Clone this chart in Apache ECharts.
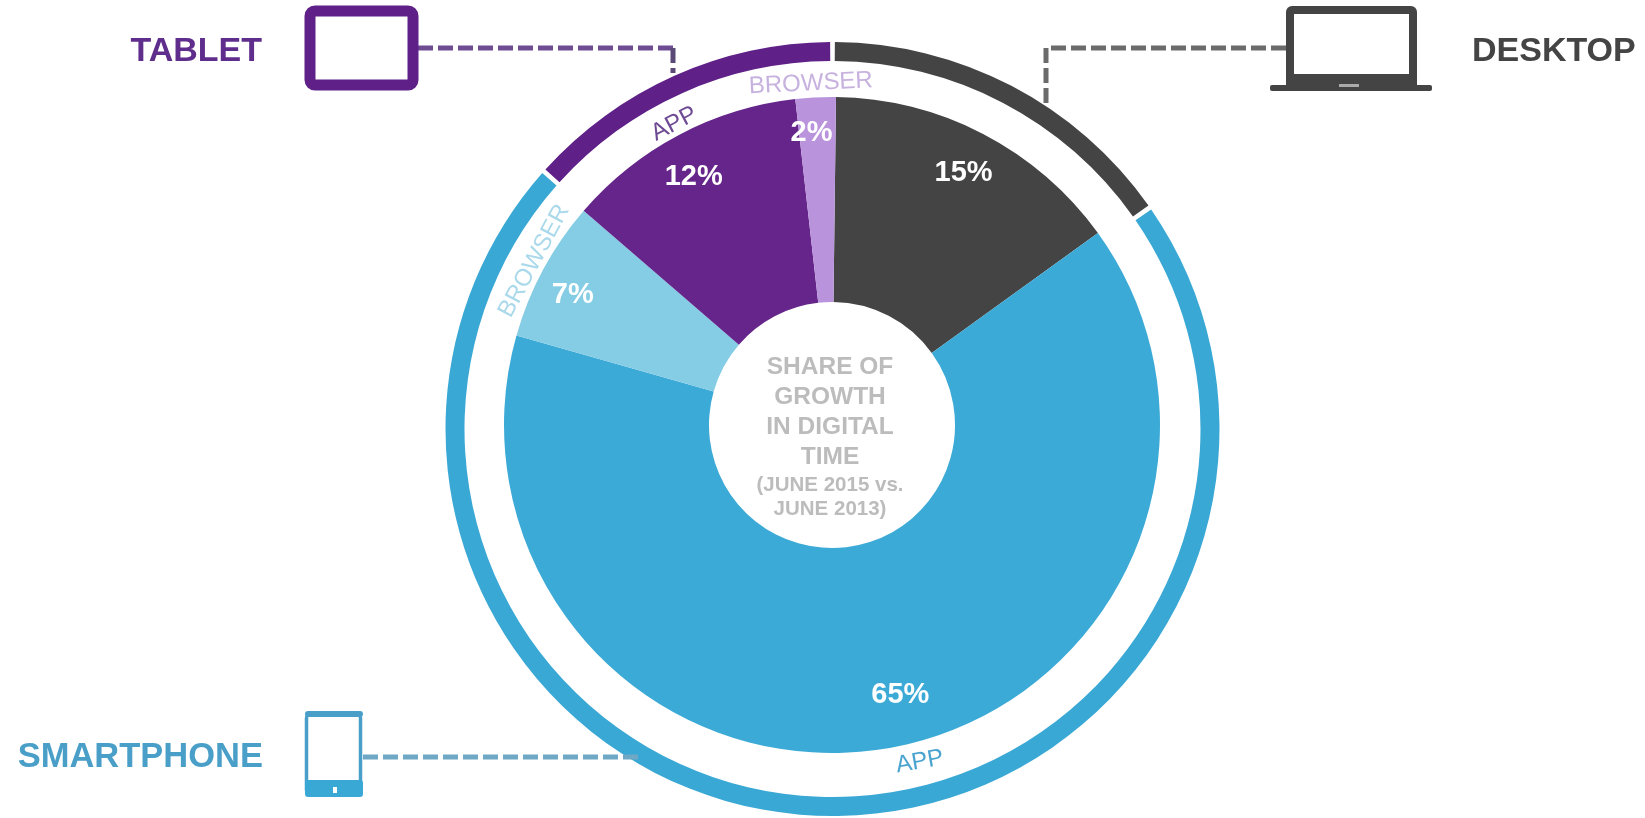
<!DOCTYPE html>
<html>
<head>
<meta charset="utf-8">
<style>html,body{margin:0;padding:0;background:#fff}#chart{width:1645px;height:818px}</style>
<script src="https://cdn.jsdelivr.net/npm/echarts@6/dist/echarts.min.js"></script>
</head>
<body>
<div id="chart"></div>
<script>
// Share of growth in digital time, clockwise from twelve o'clock
const segmentNames = ['Desktop', 'Smartphone app', 'Smartphone browser', 'Tablet app', 'Tablet browser'];
const segmentValues = [15, 65, 7, 12, 2];
const segmentColors = ['#444444', '#3caad6', '#85cce5', '#65258a', '#b994dc'];
const segmentTags = ['', 'APP', 'BROWSER', 'APP', 'BROWSER'];
const segmentTagColors = ['#444444', '#4ba4cf', '#a9d9ea', '#6d4a93', '#c7b2df'];

const deviceNames = ['DESKTOP', 'SMARTPHONE', 'TABLET'];
const deviceValues = [15.3, 71.3, 13.4];
const deviceColors = ['#444444', '#3aa8d5', '#5f2088'];
const centerLines = ['SHARE OF', 'GROWTH', 'IN DIGITAL', 'TIME'];
const centerNotes = ['(JUNE 2015 vs.', 'JUNE 2013)'];

const FONT = '"Liberation Sans", Arial, sans-serif';
const PIE_CENTER = [832, 425];
const RING_CENTER = [832.5, 429];
const textGrey = '#bcbcbc';

// Small nudges that settle each label inside its slice or on the white band
const percentNudge = [[-2, 5], [18, -16], [-4, 8], [-3, 8], [-6, -2]];
const tagNudge = [[0, 0], [28, -1], [3, 8], [1, 8], [-4, 6]];

const chart = echarts.init(document.getElementById('chart'), null, { renderer: 'canvas' });

// Transparent pie used only to hold labels at a chosen radius over the same slices
function labelRing(radius, labelFor, nudge) {
  return {
    type: 'pie', center: PIE_CENTER, radius: [radius - 1, radius + 1], silent: true,
    startAngle: 89.3,
    labelLine: { show: false },
    labelLayout: p => ({ dx: nudge[p.dataIndex][0], dy: nudge[p.dataIndex][1] }),
    itemStyle: { color: 'transparent' }, emphasis: { disabled: true },
    data: segmentNames.map((name, i) => ({ name, value: segmentValues[i], label: labelFor(i) }))
  };
}

function text(str, x, y, size, color, weight, align) {
  return { type: 'text', x, y, z: 20, style: {
    text: str, fill: color, font: (weight || 'bold') + ' ' + size + 'px ' + FONT,
    textAlign: align || 'center', textVerticalAlign: 'middle' } };
}
function dash(x1, y1, x2, y2, color) {
  return { type: 'line', z: 5, shape: { x1, y1, x2, y2 },
    style: { stroke: color, lineWidth: 5, lineDash: [15, 5] } };
}
function outline(x, y, width, height, r, color, lineWidth) {
  return { type: 'rect', z: 6, shape: { x, y, width, height, r },
    style: { fill: '#fff', stroke: color, lineWidth } };
}
function block(x, y, width, height, r, color) {
  return { type: 'rect', z: 7, shape: { x, y, width, height, r }, style: { fill: color } };
}

const option = {
  backgroundColor: '#ffffff',
  animation: false,
  series: [
    {
      type: 'pie', center: PIE_CENTER, radius: [123, 328], startAngle: 89.3, silent: true,
      label: { show: false }, labelLine: { show: false },
      data: segmentNames.map((name, i) => ({ name, value: segmentValues[i], itemStyle: { color: segmentColors[i] } }))
    },
    {
      type: 'pie', center: RING_CENTER, radius: [368, 387], padAngle: 0.7, silent: true,
      label: { show: false }, labelLine: { show: false },
      data: deviceNames.map((name, i) => ({ name, value: deviceValues[i], itemStyle: { color: deviceColors[i] } }))
    },
    labelRing(287, i => ({
      show: true, position: 'inside', formatter: segmentValues[i] + '%',
      color: '#ffffff', fontFamily: FONT, fontWeight: 'bold', fontSize: 29
    }), percentNudge),
    labelRing(345, i => ({
      show: !!segmentTags[i], position: 'inside', rotate: 'tangential', formatter: segmentTags[i],
      color: segmentTagColors[i], fontFamily: FONT, fontSize: 24
    }), tagNudge)
  ],
  graphic: { elements: [
    // Connectors from the device icons to the outer ring
    dash(418, 48, 673, 48, '#6e4c92'),
    dash(673, 48, 673, 73, '#5b4a78'),
    dash(1286, 48, 1046, 48, '#6b6b6b'),
    dash(1046, 48, 1046, 107, '#6b6b6b'),
    dash(363, 757, 640, 757, '#6ea8c4'),

    // Tablet icon
    outline(310, 11, 103, 74, 5, deviceColors[2], 11),

    // Laptop icon
    outline(1290, 10, 123, 68, 2, deviceColors[0], 8),
    block(1286, 76, 131, 10, 0, deviceColors[0]),
    block(1270, 85, 162, 6, 2, deviceColors[0]),
    block(1339, 84, 20, 3, 0, '#aaaaaa'),

    // Phone icon
    outline(306.5, 713, 54, 82, 5, '#4a9fc8', 3.5),
    block(305, 711, 58, 6, 3, '#4a9fc8'),
    block(305, 780, 58, 17, 3, deviceColors[1]),
    block(333, 787, 4, 6, 0, '#ffffff'),

    // Device names
    text(deviceNames[2], 262, 52, 34, '#5f2d8c', 'bold', 'right'),
    text(deviceNames[0], 1472, 52, 34, '#444444', 'bold', 'left'),
    text(deviceNames[1], 263, 757, 34.5, '#4a9fc8', 'bold', 'right'),

    // Caption inside the hole
    ...centerLines.map((s, i) => text(s, 830, 367 + i * 30, 24.5, textGrey)),
    ...centerNotes.map((s, i) => text(s, 830, 485 + i * 24, 20.5, textGrey))
  ] }
};
chart.setOption(option);
</script>
</body>
</html>
